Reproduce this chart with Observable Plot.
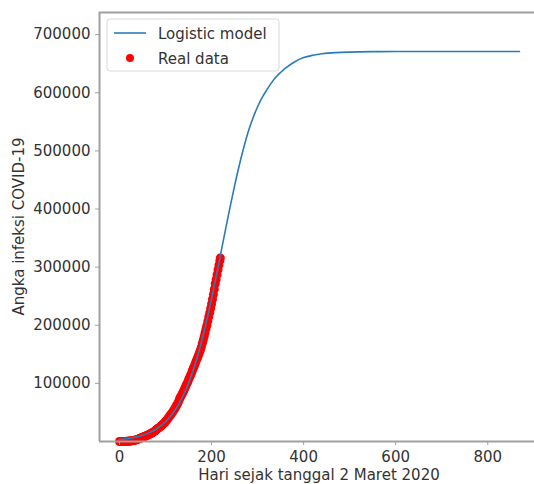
<!DOCTYPE html>
<html>
<head>
<meta charset="utf-8">
<script src="https://cdn.jsdelivr.net/npm/d3@7"></script>
<script src="https://cdn.jsdelivr.net/npm/@observablehq/plot@0.6"></script>
<style>
  html, body { margin: 0; padding: 0; background: #fff; }
  svg { font-family: "DejaVu Sans", sans-serif; }
</style>
</head>
<body>
<div id="chart"></div>
<script>
// Real data: cumulative COVID-19 cases, days since 2 March 2020
const realDays = [0,2,4,6,8,10,12,14,16,18,20,22,24,26,28,30,32,34,36,38,40,42,44,46,48,50,52,54,56,58,
  60,62,64,66,68,70,72,74,76,78,80,82,84,86,88,90,92,94,96,98,100,102,104,106,108,110,112,114,116,118,
  120,122,124,126,128,130,132,134,136,138,140,142,144,146,148,150,152,154,156,158,160,162,164,166,168,170,
  172,174,176,178,180,182,184,186,188,190,192,194,196,198,200,202,204,206,208,210,212,214,216,218,219];
const realCases = [2,2,4,6,27,34,96,134,227,369,514,686,893,1155,1414,1677,1986,2273,2738,3293,3842,4557,5136,5923,6575,7135,7775,8607,9096,9771,
  10551,11192,12071,12776,13645,14265,15438,16496,17514,18496,20162,21745,22750,23851,25216,26473,27549,29521,31186,32033,34316,36406,38277,40400,42762,45029,46845,49009,51427,54010,
  56385,59394,62142,64958,68079,72347,75699,78572,81668,84882,88214,91751,95418,98778,102051,106336,109936,113134,116871,121226,125396,128776,132816,137468,141370,144945,
  149408,153535,157859,162884,169195,174796,180646,187537,194109,200035,207203,214746,221523,228993,236519,244676,252923,262022,271339,278722,287008,295499,303498,311176,315714];

// Logistic model curve
const modelDays = [0,10,20,30,40,50,60,70,80,90,100,110,120,130,140,150,160,170,180,190,200,210,220,230,240,250,260,270,280,290,300,310,320,330,340,350,360,380,400,420,440,470,500,550,600,700,869];
const modelCases = [3301,4182,5300,6710,8494,10736,13556,17117,21576,27133,34043,42658,53211,66089,81690,100359,122400,148058,177326,210081,245878,283961,323529,363372,402498,439704,474445,505804,533634,556500,576000,592000,605000,617000,627000,635000,642000,653000,660500,664500,667000,669000,670000,670700,670900,671000,671000];

const xTicks = [0,200,400,600,800];
const yTicks = [100000,200000,300000,400000,500000,600000,700000];
const xDomain = [-43.45, 912.45];
const yDomain = [0, 738100];

const real = realDays.map((d,i) => ({day: d, cases: realCases[i]}));
const model = modelDays.map((d,i) => ({day: d, cases: modelCases[i]}));

const spine = "#a0a0a0";
const textColor = "#333";
const lineColor = "#2b7bba";

const plot = Plot.plot({
  width: 534,
  height: 484,
  marginLeft: 99,
  marginRight: 0,
  marginTop: 12,
  marginBottom: 43,
  style: {fontSize: "15px", fontFamily: "DejaVu Sans, sans-serif", color: textColor, background: "#fff"},
  x: {domain: xDomain, range: [99, 539]},
  y: {domain: yDomain, range: [441, 12]},
  marks: [
    Plot.dot(real, {x: "day", y: "cases", r: 4.5, fill: "red", stroke: "none"}),
    Plot.line(model, {x: "day", y: "cases", stroke: lineColor, strokeWidth: 1.6, curve: "catmull-rom"}),
    Plot.ruleY([yDomain[1]], {stroke: spine, strokeWidth: 2}),
    Plot.ruleY([yDomain[0]], {stroke: spine, strokeWidth: 2}),
    Plot.ruleX([xDomain[0]], {stroke: spine, strokeWidth: 2}),
    Plot.axisY({ticks: yTicks, tickFormat: d => String(d), tickSize: 4, tickPadding: 5, label: null, stroke: spine, fill: textColor}),
    Plot.axisX({ticks: xTicks, tickFormat: d => String(d), tickSize: 4, tickPadding: 6, label: null, stroke: spine, fill: textColor})
  ]
});

const svg = d3.select(plot);
// axis labels
svg.append("text")
  .attr("x", 319).attr("y", 480)
  .attr("text-anchor", "middle").attr("font-size", 15).attr("fill", textColor)
  .text("Hari sejak tanggal 2 Maret 2020");
svg.append("text")
  .attr("transform", "translate(23.5,226.5) rotate(-90)")
  .attr("text-anchor", "middle").attr("font-size", 15).attr("fill", textColor)
  .text("Angka infeksi COVID-19");

// legend
const lg = svg.append("g").attr("text-anchor", "start");
lg.append("rect").attr("x", 107).attr("y", 19).attr("width", 172).attr("height", 52)
  .attr("rx", 3).attr("fill", "#fff").attr("fill-opacity", 0.85).attr("stroke", "#d8d8d8");
lg.append("line").attr("x1", 114).attr("x2", 146).attr("y1", 33).attr("y2", 33)
  .attr("stroke", lineColor).attr("stroke-width", 1.6);
lg.append("text").attr("x", 158).attr("y", 38.5).attr("text-anchor", "start").attr("font-size", 15).attr("fill", textColor).text("Logistic model");
lg.append("circle").attr("cx", 130).attr("cy", 58).attr("r", 4).attr("fill", "red");
lg.append("text").attr("x", 158).attr("y", 63.5).attr("text-anchor", "start").attr("font-size", 15).attr("fill", textColor).text("Real data");

document.getElementById("chart").appendChild(plot);
</script>
</body>
</html>
